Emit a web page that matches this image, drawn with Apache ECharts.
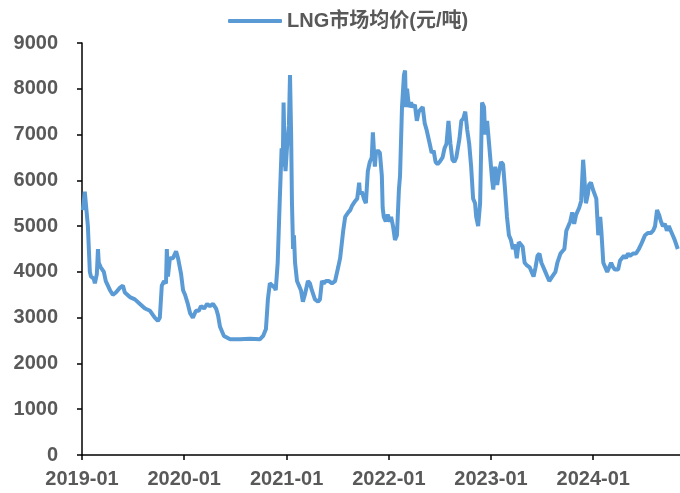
<!DOCTYPE html>
<html>
<head>
<meta charset="utf-8">
<script src="https://cdn.jsdelivr.net/npm/echarts@6/dist/echarts.min.js"></script>
<style>
  html, body { margin: 0; padding: 0; background: #fff; }
  #chart { width: 680px; height: 493px; }
</style>
</head>
<body>
<div id="chart"></div>
<script>
var seriesName = 'LNG市场均价(元/吨)';

var dates = [
  '2019-01-04','2019-01-11','2019-01-22','2019-01-29','2019-02-02','2019-02-12','2019-02-16','2019-02-23','2019-02-27','2019-03-02',
  '2019-03-09','2019-03-20','2019-03-27','2019-04-11','2019-04-21','2019-05-02','2019-05-16','2019-05-27','2019-06-03','2019-06-21',
  '2019-07-09','2019-07-27','2019-08-14','2019-09-01','2019-09-18','2019-09-29','2019-10-06','2019-10-13','2019-10-21','2019-10-28',
  '2019-10-31','2019-11-04','2019-11-11','2019-11-22','2019-12-03','2019-12-10','2019-12-21','2019-12-28','2020-01-04','2020-01-14',
  '2020-01-22','2020-02-01','2020-02-12','2020-02-22','2020-03-01','2020-03-12','2020-03-23','2020-04-02','2020-04-13','2020-04-24',
  '2020-05-01','2020-05-08','2020-05-22','2020-06-13','2020-07-18','2020-08-23','2020-09-28','2020-10-09','2020-10-19','2020-10-26',
  '2020-11-02','2020-11-09','2020-11-20','2020-11-23','2020-11-30','2020-12-07','2020-12-14','2020-12-18','2020-12-21','2020-12-25',
  '2020-12-28','2021-01-02','2021-01-09','2021-01-13','2021-01-17','2021-01-20','2021-01-24','2021-01-27','2021-01-31','2021-02-07',
  '2021-02-14','2021-02-21','2021-02-28','2021-03-07','2021-03-18','2021-03-25','2021-04-01','2021-04-12','2021-04-23','2021-04-30',
  '2021-05-07','2021-05-14','2021-05-21','2021-06-01','2021-06-12','2021-06-23','2021-07-04','2021-07-11','2021-07-22','2021-07-29',
  '2021-08-09','2021-08-16','2021-08-23','2021-09-03','2021-09-10','2021-09-17','2021-09-20','2021-09-27','2021-10-04','2021-10-11',
  '2021-10-18','2021-10-25','2021-11-01','2021-11-05','2021-11-12','2021-11-16','2021-11-23','2021-11-30','2021-12-07','2021-12-10',
  '2021-12-14','2021-12-21','2021-12-28','2022-01-05','2022-01-09','2022-01-16','2022-01-23','2022-01-30','2022-02-06','2022-02-10',
  '2022-02-17','2022-02-24','2022-02-28','2022-03-03','2022-03-07','2022-03-14','2022-03-21','2022-03-28','2022-04-04','2022-04-11',
  '2022-04-18','2022-04-25','2022-05-02','2022-05-09','2022-05-16','2022-05-27','2022-06-03','2022-06-10','2022-06-17','2022-06-24',
  '2022-07-01','2022-07-12','2022-07-19','2022-07-26','2022-08-02','2022-08-09','2022-08-16','2022-08-23','2022-08-30','2022-09-10',
  '2022-09-17','2022-09-24','2022-10-01','2022-10-08','2022-10-15','2022-10-22','2022-10-29','2022-11-05','2022-11-09','2022-11-16',
  '2022-11-23','2022-11-30','2022-12-07','2022-12-11','2022-12-18','2022-12-25','2023-01-05','2023-01-09','2023-01-16','2023-01-23',
  '2023-01-30','2023-02-06','2023-02-13','2023-02-20','2023-02-27','2023-03-06','2023-03-13','2023-03-20','2023-03-27','2023-04-03',
  '2023-04-10','2023-04-17','2023-04-24','2023-05-01','2023-05-08','2023-05-19','2023-05-26','2023-06-02','2023-06-09','2023-06-16',
  '2023-06-23','2023-06-30','2023-07-07','2023-07-14','2023-07-21','2023-07-28','2023-08-08','2023-08-19','2023-08-26','2023-09-06',
  '2023-09-13','2023-09-20','2023-09-27','2023-10-04','2023-10-11','2023-10-18','2023-10-25','2023-11-01','2023-11-12','2023-11-19',
  '2023-11-26','2023-11-29','2023-12-03','2023-12-06','2023-12-13','2023-12-17','2023-12-24','2023-12-31','2024-01-12','2024-01-19',
  '2024-01-26','2024-01-30','2024-02-06','2024-02-13','2024-02-20','2024-02-27','2024-03-05','2024-03-12','2024-03-19','2024-03-30',
  '2024-04-06','2024-04-13','2024-04-20','2024-04-27','2024-05-04','2024-05-11','2024-05-22','2024-06-02','2024-06-12','2024-06-20',
  '2024-06-27','2024-07-04','2024-07-15','2024-07-25','2024-08-02','2024-08-09','2024-08-16','2024-08-23','2024-08-30','2024-09-06',
  '2024-09-13','2024-09-20','2024-09-27','2024-10-04','2024-10-11','2024-10-18','2024-10-29'
];

var prices = [
  5350,5750,5000,4000,3900,3850,3750,3950,4500,4200,
  4100,4000,3800,3600,3500,3550,3650,3700,3550,3450,
  3400,3300,3200,3150,3000,2930,3000,3700,3800,3750,
  4500,3900,4300,4300,4450,4300,3950,3600,3500,3300,
  3100,3000,3150,3150,3250,3200,3300,3250,3300,3200,
  3050,2800,2600,2530,2530,2540,2530,2600,2750,3400,
  3750,3780,3650,3600,4200,5500,6700,6300,7700,6500,
  6200,6700,7200,8300,7000,5500,4500,4800,4200,3800,
  3700,3600,3350,3500,3800,3750,3600,3400,3350,3400,
  3800,3750,3800,3800,3750,3800,4100,4300,4900,5200,
  5300,5350,5450,5550,5600,5950,5700,5750,5600,5500,
  6200,6400,6500,7050,6300,6600,6650,6600,6100,5400,
  5200,5100,5250,5100,5200,5000,4700,4800,5800,6100,
  7600,8300,8400,7600,8000,7600,7700,7600,7650,7300,
  7500,7550,7600,7250,7100,6800,6600,6650,6400,6350,
  6400,6500,6700,6800,7300,6800,6450,6400,6500,6900,
  7300,7350,7500,7100,6800,6300,5600,5500,5200,5000,
  5500,7700,7600,7000,7300,6800,6000,5800,6300,5900,
  6200,6400,6350,5800,5200,4800,4700,4500,4600,4300,
  4650,4600,4550,4200,4150,4100,4000,3900,4100,4350,
  4400,4200,4100,4000,3900,3800,3900,4000,4200,4400,
  4450,4500,4900,4900,5100,5300,5050,5250,5400,5550,
  6450,6200,5800,5500,5700,5900,5950,5800,5600,4800,
  5200,4900,4200,4200,4000,4100,4200,4100,4050,4050,
  4250,4300,4350,4300,4400,4350,4400,4400,4500,4600,
  4700,4800,4850,4850,4900,5000,5350,5250,5100,5000,
  5050,4900,5000,4900,4800,4700,4500
];

var xMin = '2019-01-01';
var xMax = '2024-11-06';
var yTicks = [0, 1000, 2000, 3000, 4000, 5000, 6000, 7000, 8000, 9000];

var chartDom = document.getElementById('chart');
var myChart = echarts.init(chartDom);
var option;

var fontFam = 'Liberation Sans, Arial, Noto Sans CJK SC, sans-serif';
var labelStyle = {
  color: '#595959',
  fontFamily: fontFam,
  fontWeight: 'bold',
  fontSize: 20
};

option = {
  animation: false,
  backgroundColor: '#fff',
  legend: {
    top: 6,
    left: 223,
    icon: 'roundRect',
    itemWidth: 54,
    itemHeight: 4,
    itemGap: 5,
    textStyle: {
      color: '#595959',
      fontFamily: fontFam,
      fontWeight: 'bold',
      fontSize: 20
    },
    data: [seriesName]
  },
  grid: {
    left: 82,
    right: 0,
    top: 43,
    bottom: 38
  },
  xAxis: {
    type: 'time',
    min: xMin,
    max: xMax,
    minInterval: 365 * 86400000,
    maxInterval: 366 * 86400000,
    splitLine: { show: false },
    axisLine: { lineStyle: { color: '#000', width: 1.5 } },
    axisTick: { show: true, length: 5, lineStyle: { color: '#000', width: 1.5 } },
    axisLabel: Object.assign({}, labelStyle, {
      margin: 14,
      showMaxLabel: false,
      formatter: function (v) {
        return echarts.time.format(v, '{yyyy}-{MM}', false);
      }
    })
  },
  yAxis: {
    type: 'value',
    min: yTicks[0],
    max: yTicks[yTicks.length - 1],
    interval: 1000,
    splitLine: { show: false },
    axisLine: { show: true, lineStyle: { color: '#000', width: 1.5 } },
    axisTick: { show: true, length: 5, lineStyle: { color: '#000', width: 1.5 } },
    axisLabel: Object.assign({}, labelStyle, {
      margin: 24,
      formatter: function (v) { return String(v); }
    })
  },
  series: [
    {
      name: seriesName,
      type: 'line',
      showSymbol: false,
      symbol: 'none',
      color: '#5B9BD5',
      lineStyle: { width: 4, color: '#5B9BD5' },
      data: dates.map(function (d, i) { return [d, prices[i]]; })
    }
  ]
};

option && myChart.setOption(option);
</script>
</body>
</html>
